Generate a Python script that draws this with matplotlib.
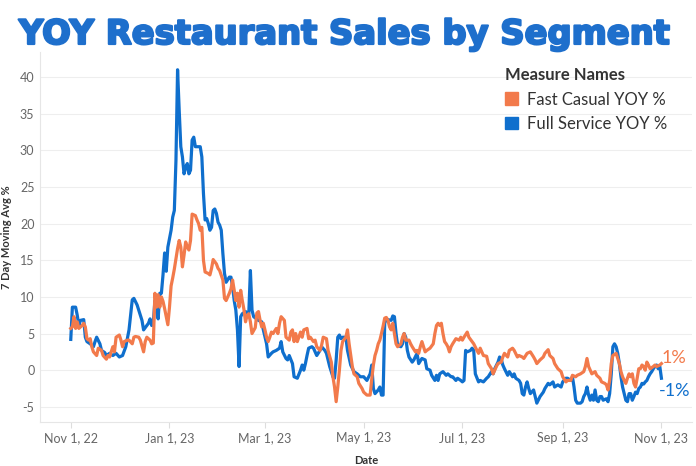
import pandas as pd
import matplotlib
matplotlib.use("Agg")
import matplotlib.pyplot as plt
import matplotlib.patheffects as pe
from matplotlib.patches import Patch

# days after Nov 1, 2022 and 7 day moving avg YOY %
full_days = [0, 1, 3, 4, 5, 6, 8, 9, 10, 12, 14, 15, 16, 18, 19, 21, 22, 24, 26, 28,
             30, 32, 34, 36, 38, 39, 41, 42, 44, 45, 46, 48, 49, 50, 51, 52, 53, 54, 55, 56,
             57, 58, 59, 60, 62, 63, 64, 65, 66, 67, 68, 69, 70, 71, 72, 73, 74, 75, 76, 77,
             78, 80, 81, 82, 83, 84, 85, 86, 87, 88, 89, 90, 91, 92, 93, 94, 95, 96, 98, 99,
             100, 101, 102, 103, 104, 105, 106, 108, 110, 111, 112, 113, 116, 118, 119, 121, 122, 124, 125, 127,
             129, 130, 131, 133, 134, 135, 137, 138, 140, 142, 143, 144, 145, 146, 147, 149, 150, 152, 154, 155,
             157, 158, 160, 162, 163, 164, 165, 166, 167, 168, 170, 171, 173, 175, 177, 179, 181, 183, 185, 186,
             187, 188, 190, 191, 192, 193, 194, 195, 196, 198, 199, 200, 201, 202, 204, 205, 206, 207, 208, 209,
             211, 212, 214, 215, 217, 219, 220, 222, 223, 225, 226, 227, 228, 230, 232, 233, 235, 236, 238, 239,
             241, 242, 243, 244, 245, 247, 248, 249, 250, 252, 253, 255, 257, 258, 260, 261, 262, 264, 265, 266,
             267, 268, 270, 271, 273, 274, 275, 277, 278, 279, 280, 281, 282, 283, 284, 286, 287, 288, 290, 292,
             293, 295, 296, 298, 299, 301, 303, 304, 306, 307, 309, 310, 311, 312, 313, 315, 316, 317, 318, 319,
             320, 321, 322, 323, 324, 325, 326, 327, 328, 329, 331, 332, 333, 334, 335, 336, 337, 338, 339, 340,
             341, 342, 343, 344, 345, 346, 347, 348, 349, 350, 351, 352, 353, 354, 355, 356, 357, 358, 359, 360,
             361, 362, 363, 364, 365]
full_vals = [4.2, 8.6, 8.6, 7.5, 6.1, 6.8, 6.9, 4.5, 3.9, 3.6, 3.2, 3.9, 4.5, 3.6, 2.7, 2.4, 2.0, 2.3, 2.0, 2.3,
             1.8, 2.0, 3.2, 5.5, 9.6, 9.8, 8.9, 8.2, 6.8, 5.5, 5.8, 6.4, 7.0, 6.1, 6.5, 9.5, 8.6, 7.0, 10.5, 10.5,
             13.0, 16.0, 13.5, 16.8, 19.1, 20.9, 21.8, 28.6, 41.0, 35.5, 30.5, 29.1, 26.8, 27.7, 28.2, 26.8, 27.3, 31.4, 31.8, 30.5,
             30.5, 30.5, 29.1, 24.1, 20.5, 20.7, 20.0, 19.1, 19.5, 21.8, 22.0, 21.4, 20.2, 19.8, 19.1, 15.9, 13.2, 12.0, 12.7, 12.7,
             11.4, 9.5, 8.2, 5.5, 0.5, 7.3, 7.7, 8.0, 7.7, 13.6, 8.2, 7.3, 6.8, 6.6, 5.5, 3.6, 1.8, 2.3, 2.5, 2.7,
             3.0, 3.9, 2.5, 1.6, 1.4, 2.0, 0.9, -0.9, -1.1, 0.0, 0.7, 0.0, 0.9, 2.0, 3.0, 3.2, 3.0, 2.0, 2.7, 3.2,
             2.7, 2.3, 0.5, -0.9, -1.1, 1.4, 4.5, 4.8, 4.3, 4.5, 4.5, 2.7, 0.7, -0.2, -0.5, -0.9, -0.9, -1.4, -0.5, 0.7,
             -2.5, -3.2, -2.7, -2.3, -3.4, -3.4, 6.4, 7.0, 6.9, 6.8, 7.4, 7.3, 5.0, 3.4, 3.2, 3.6, 5.0, 4.5, 2.7, 1.8,
             1.1, 1.4, 2.3, 0.9, 1.6, 1.4, 0.2, 0.0, -0.7, -1.4, -0.7, -1.4, -0.5, -0.2, -0.7, -0.5, -0.9, -0.9, -1.4, -1.1,
             -1.4, -1.6, -1.4, 2.7, 2.5, 2.7, 3.0, 2.7, -0.5, -1.6, -1.4, -1.6, -1.1, -0.9, -0.2, -0.5, 0.2, 1.1, 1.8, 1.5,
             0.7, 0.2, -0.7, -0.2, -0.9, -0.5, -1.1, -1.4, -1.8, -3.2, -3.4, -2.3, -1.6, -2.5, -3.2, -2.7, -3.6, -4.5, -3.6, -3.0,
             -2.5, -1.8, -2.0, -1.6, -2.3, -2.0, -2.3, -1.6, -1.1, -1.1, -1.4, -0.9, -2.3, -4.1, -4.5, -4.5, -4.3, -3.6, -3.2, -2.3,
             -3.4, -4.1, -3.4, -4.1, -2.7, -4.1, -4.3, -3.6, -3.6, -4.1, -3.9, -4.3, -3.2, -0.5, 3.2, 3.6, 3.2, 2.3, 0.9, -0.9,
             -2.3, -3.2, -4.1, -4.3, -3.2, -3.2, -4.1, -3.6, -3.0, -3.2, -2.5, -2.3, -1.8, -1.9, -1.6, -1.4, -0.9, -0.5, -0.2, 0.2,
             0.5, 0.7, 0.2, 0.5, -1.1]

fast_days = [0, 1, 2, 3, 4, 5, 7, 8, 9, 10, 11, 12, 13, 14, 16, 17, 19, 20, 22, 23,
             24, 26, 27, 28, 30, 31, 32, 33, 35, 36, 38, 39, 40, 42, 43, 45, 46, 47, 49, 50,
             51, 52, 53, 54, 55, 56, 57, 58, 60, 61, 62, 63, 64, 65, 66, 67, 68, 69, 70, 71,
             72, 73, 74, 75, 77, 78, 79, 80, 81, 82, 83, 85, 86, 87, 88, 90, 91, 92, 94, 95,
             96, 98, 99, 100, 101, 102, 103, 104, 105, 106, 107, 108, 109, 110, 111, 112, 114, 115, 116, 117,
             118, 119, 120, 121, 122, 123, 124, 125, 127, 128, 129, 130, 132, 133, 135, 136, 137, 138, 139, 140,
             142, 143, 144, 146, 147, 148, 150, 151, 152, 154, 155, 156, 158, 159, 161, 162, 163, 164, 165, 166,
             167, 168, 170, 171, 172, 174, 175, 177, 178, 180, 181, 183, 185, 186, 187, 188, 189, 190, 191, 192,
             193, 194, 195, 196, 197, 198, 199, 200, 201, 202, 204, 205, 206, 207, 209, 210, 211, 213, 214, 215,
             216, 217, 218, 219, 220, 222, 224, 225, 226, 227, 228, 229, 230, 231, 232, 233, 234, 235, 236, 238,
             240, 241, 242, 243, 245, 246, 248, 249, 251, 252, 253, 255, 257, 258, 260, 261, 263, 264, 266, 267,
             268, 270, 271, 273, 274, 276, 277, 279, 280, 282, 284, 286, 287, 288, 290, 292, 293, 295, 296, 298,
             299, 301, 303, 304, 306, 307, 309, 310, 312, 313, 315, 317, 318, 319, 320, 321, 322, 324, 325, 327,
             328, 330, 331, 332, 333, 334, 335, 337, 338, 339, 340, 341, 342, 343, 344, 345, 346, 347, 348, 349,
             350, 351, 352, 353, 354, 355, 356, 357, 358, 360, 361, 362, 364, 365]
fast_vals = [5.7, 5.9, 7.3, 5.7, 6.6, 5.7, 6.1, 6.4, 5.9, 4.3, 4.1, 4.3, 3.2, 2.5, 2.0, 3.0, 2.7, 2.0, 1.5, 2.0,
             1.8, 3.2, 2.5, 4.5, 4.8, 4.1, 3.2, 3.9, 4.1, 4.1, 3.6, 4.5, 4.6, 4.5, 4.1, 2.5, 3.9, 4.5, 4.1, 3.6,
             3.7, 10.5, 8.6, 10.3, 8.6, 10.0, 9.4, 8.4, 6.2, 8.6, 11.5, 12.6, 13.8, 15.2, 16.6, 17.7, 16.8, 14.1, 15.7, 17.5,
             16.8, 16.4, 17.7, 21.3, 21.1, 20.5, 20.0, 19.1, 19.5, 15.0, 13.4, 13.2, 13.0, 13.9, 15.1, 14.5, 13.9, 13.6, 12.3, 9.8,
             9.5, 10.5, 11.1, 12.3, 10.9, 9.5, 10.5, 8.6, 10.9, 9.5, 8.3, 6.6, 7.5, 7.7, 6.6, 5.0, 5.8, 7.8, 8.0, 6.8,
             5.9, 6.4, 5.5, 4.5, 3.9, 4.5, 5.2, 5.0, 5.7, 5.0, 6.4, 7.3, 6.8, 4.5, 4.1, 5.2, 5.5, 3.9, 5.0, 3.9,
             5.2, 4.5, 5.5, 5.7, 4.3, 4.5, 3.9, 4.1, 3.2, 2.7, 3.4, 4.5, 4.3, 2.7, 1.1, -0.9, -2.3, -4.3, -2.3, 0.0,
             2.7, 3.9, 4.5, 5.5, 3.6, 0.5, -0.5, -0.9, -1.8, -2.5, -3.0, -3.4, -3.4, -1.2, 0.7, 2.0, 2.7, 3.6, 4.1, 5.0,
             6.0, 7.1, 7.2, 6.8, 5.9, 5.5, 6.4, 5.0, 3.6, 3.2, 3.6, 4.5, 5.0, 4.1, 4.1, 3.6, 3.2, 2.5, 2.7, 2.3,
             3.2, 3.9, 3.2, 2.5, 2.7, 3.0, 3.6, 5.0, 6.1, 6.4, 6.1, 6.4, 5.0, 3.9, 3.6, 3.2, 2.5, 3.2, 3.6, 4.3,
             4.1, 4.5, 4.1, 4.5, 5.2, 4.5, 3.9, 3.6, 2.7, 2.3, 3.0, 2.0, 1.9, 0.9, 0.2, -0.5, 0.5, 0.9, 1.1, 1.8,
             2.3, 1.8, 2.7, 3.0, 2.7, 1.8, 2.0, 1.8, 1.6, 2.3, 2.5, 1.8, 1.4, 0.9, 1.4, 1.8, 2.3, 2.8, 2.0, 1.6,
             0.9, 0.2, -0.2, -0.9, -1.6, -1.4, -1.4, -0.7, -0.9, -0.7, -0.5, -0.2, 0.5, 1.6, 0.5, 0.0, -0.5, -0.2, -0.7, -1.1,
             -1.6, -1.8, -2.0, -2.7, -1.4, 0.9, 2.0, 2.3, 1.6, 0.9, -0.2, -0.9, -1.4, -1.8, -1.1, -0.5, -0.9, -0.5, -1.8, -2.3,
             -1.1, 0.2, 0.2, 0.7, 0.5, 0.0, 1.1, 0.7, 0.2, 0.5, 0.7, 0.5, 0.7, 0.9]

tick_dates = ["2022-11-01", "2023-01-01", "2023-03-01", "2023-05-01", "2023-07-01", "2023-09-01", "2023-11-01"]
tick_labels = ["Nov 1, 22", "Jan 1, 23", "Mar 1, 23", "May 1, 23", "Jul 1, 23", "Sep 1, 23", "Nov 1, 23"]
y_ticks = [-5, 0, 5, 10, 15, 20, 25, 30, 35, 40]

start = pd.Timestamp("2022-11-01")
full_x = start + pd.to_timedelta(full_days, unit="D")
fast_x = start + pd.to_timedelta(fast_days, unit="D")

ORANGE = "#f27a4b"
BLUE = "#0f6fcd"
GREY = "#666666"

plt.rcParams['font.family'] = ['Lato', 'DejaVu Sans']

fig = plt.figure(figsize=(6.96, 4.66), dpi=100)
ax = fig.add_axes([0.0575, 0.094, 0.937, 0.794])

ax.plot(fast_x, fast_vals, color=ORANGE, lw=2.3, solid_joinstyle='round', zorder=3)
ax.plot(full_x, full_vals, color=BLUE, lw=2.3, solid_joinstyle='round', zorder=2)

ax.set_xlim(start - pd.Timedelta(days=19), start + pd.Timedelta(days=384))
ax.set_ylim(-7.1, 43.4)
ax.set_yticks(y_ticks)
ax.set_yticklabels([str(v) for v in y_ticks])
ax.set_xticks(pd.to_datetime(tick_dates))
ax.set_xticklabels(tick_labels)
ax.tick_params(axis='y', length=0, labelsize=9, colors=GREY, pad=4)
ax.tick_params(axis='x', length=4, color="#dddddd", labelsize=9, labelcolor=GREY, pad=3)
ax.grid(axis='y', color="#eeeeee", lw=0.8)
ax.set_axisbelow(True)
for side in ['top', 'right']:
    ax.spines[side].set_visible(False)
for side in ['left', 'bottom']:
    ax.spines[side].set_color("#e6e6e6")
    ax.spines[side].set_linewidth(0.8)

ax.set_ylabel("7 Day Moving Avg %", fontsize=8, fontweight='bold', color="#333333")
ax.yaxis.set_label_coords(-0.043, 0.5)
ax.set_xlabel("Date", fontsize=8, fontweight='bold', color="#333333")
ax.xaxis.set_label_coords(0.5, -0.09)

# end labels
ax.annotate("1%", (fast_x[-1], fast_vals[-1]), xytext=(0, 4), textcoords='offset points',
            color=ORANGE, fontsize=13, va='center', ha='left')
ax.annotate("-1%", (full_x[-1], full_vals[-1]), xytext=(-1.5, -9), textcoords='offset points',
            color=BLUE, fontsize=13, va='center', ha='left')

handles = [Patch(color=ORANGE, label="Fast Casual YOY %"), Patch(color=BLUE, label="Full Service YOY %")]
leg = ax.legend(handles=handles, title="Measure Names", loc='upper left', bbox_to_anchor=(0.69, 1.0),
                frameon=False, fontsize=12, title_fontproperties={'weight': 'bold', 'size': 12},
                handlelength=0.8, handleheight=0.8, handletextpad=0.5, labelspacing=0.5)
leg._legend_box.align = "left"
for t in leg.get_texts():
    t.set_color("#333333")
leg.get_title().set_color("#333333")

fig.text(0.495, 0.926, "YOY Restaurant Sales by Segment", ha='center', va='center',
         fontsize=24.3, fontweight='bold', color="#1e6fcc", family=['DejaVu Sans'],
         path_effects=[pe.withStroke(linewidth=1.6, foreground="#1e6fcc")])

fig.savefig("out.png", dpi=100)
